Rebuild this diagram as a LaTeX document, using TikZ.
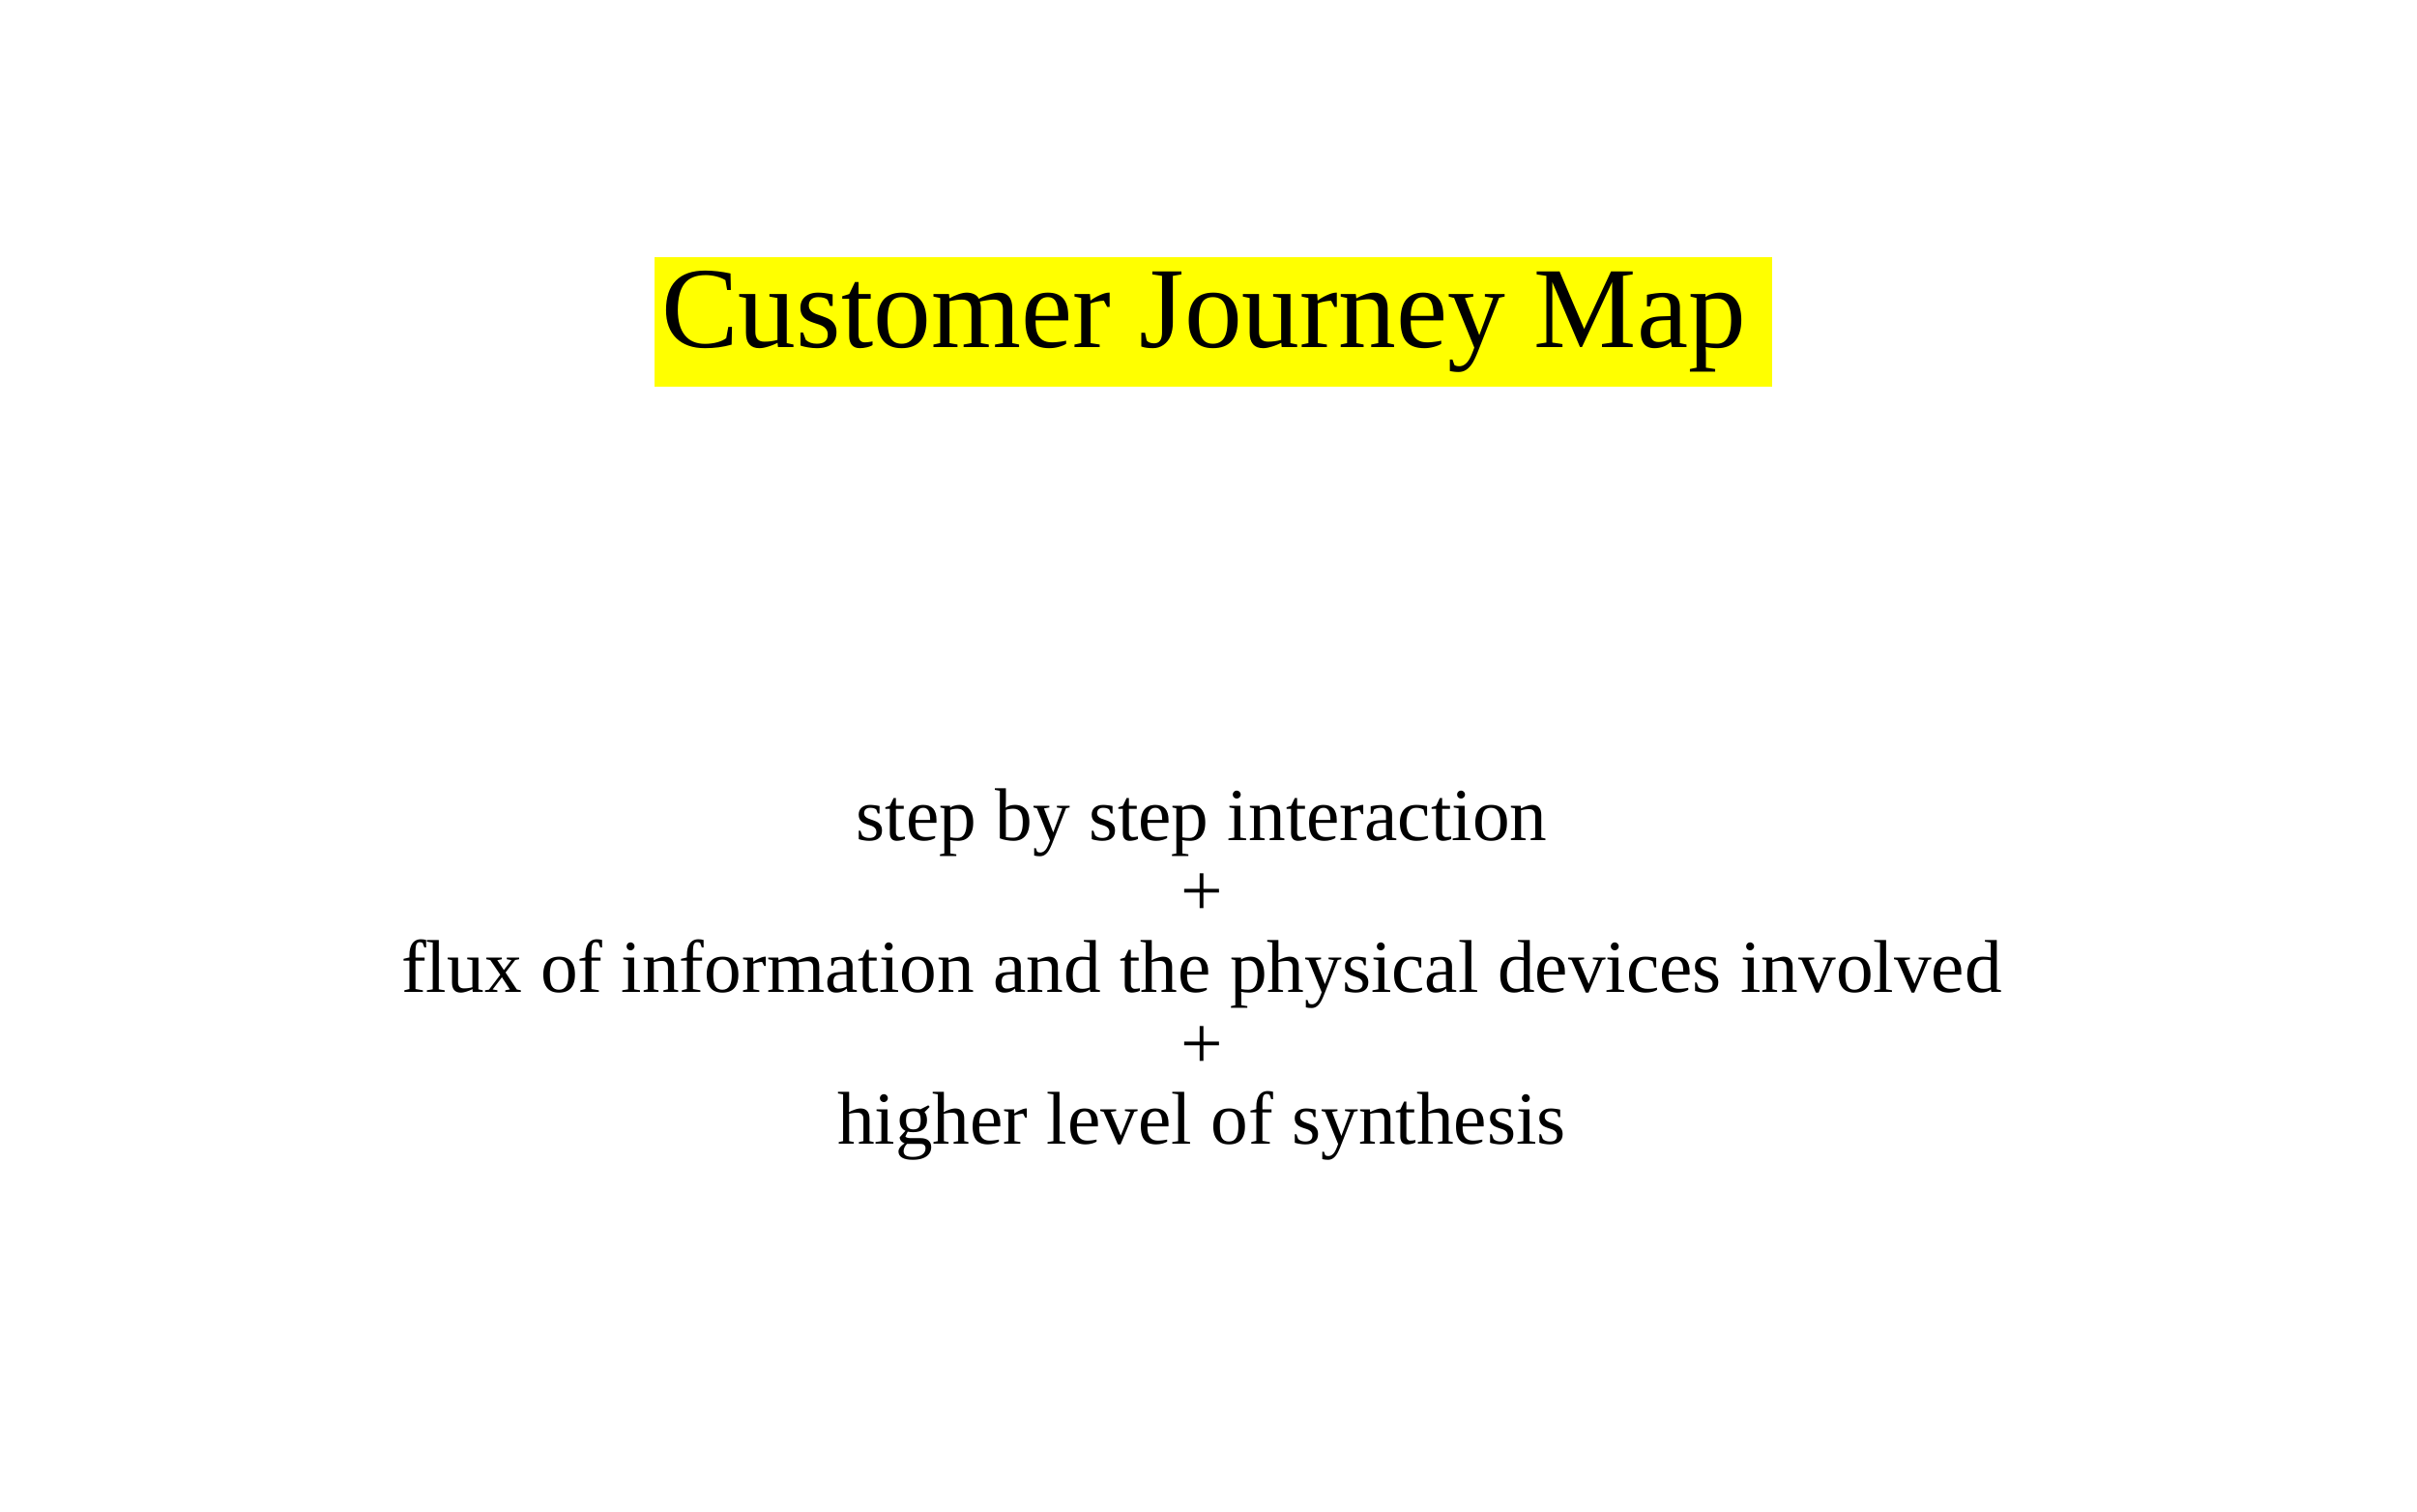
\documentclass[tikz,border=0pt]{standalone}
\usepackage{fontspec}
\setmainfont{Liberation Serif}
\definecolor{marker}{RGB}{255,255,0}
\tikzset{
  titlebox/.style={fill=marker, font=\fontsize{34}{40}\selectfont, inner xsep=2pt, inner ysep=4pt},
  bodytext/.style={align=center, font=\fontsize{22}{22.4}\selectfont}
}
\begin{document}
\begin{tikzpicture}
    % Frame
    \useasboundingbox (0,0) rectangle (25,15.63);
    % Title
    \node[titlebox] (title) at (12.55,12.3) {Customer Journey Map\,};
    % Summary
    \node[bodytext] (summary) at (12.43,5.55) {step by step interaction\\+\\flux of information and the physical devices involved\\+\\higher level of synthesis};
\end{tikzpicture}
\end{document}
